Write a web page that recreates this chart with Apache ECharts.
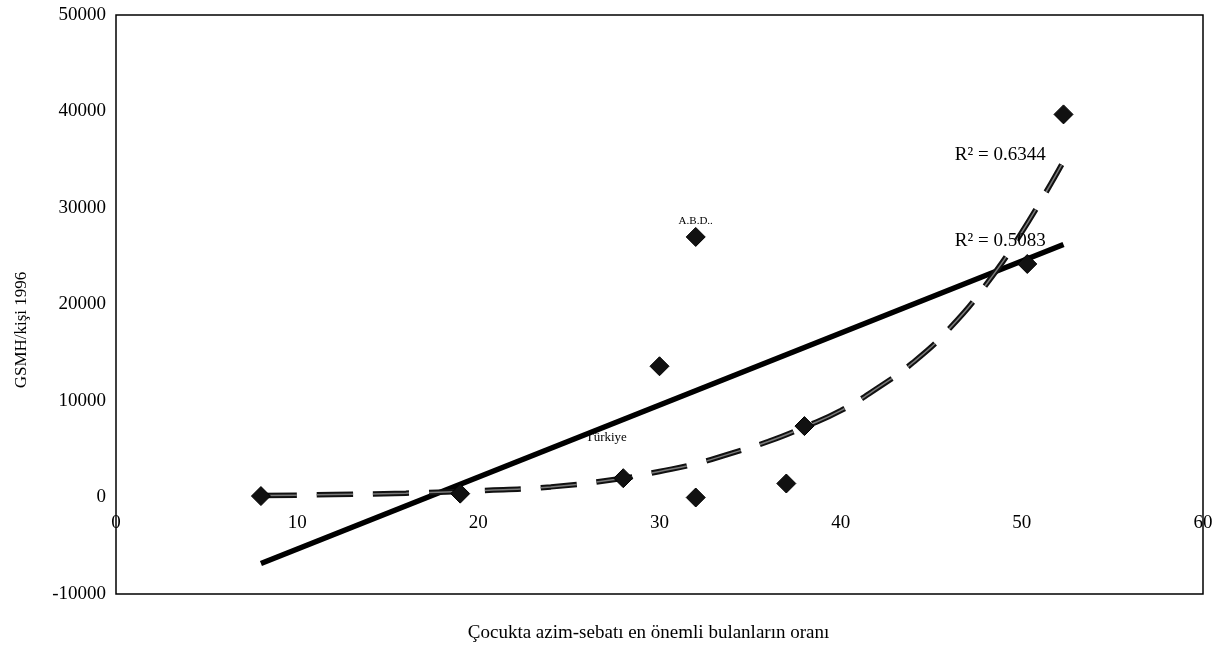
<!DOCTYPE html>
<html>
<head>
<meta charset="utf-8">
<script src="https://cdn.jsdelivr.net/npm/echarts@6/dist/echarts.min.js"></script>
<style>
html,body{margin:0;padding:0;background:#fff;}
#chart{width:1228px;height:651px;}
</style>
</head>
<body>
<div id="chart"></div>
<script>
// Scatter data (x: share finding perseverance most important, y: GNP per capita 1996)
const pointX = [8, 19, 28, 30, 32, 32, 37, 38, 50.3, 52.3];
const pointY = [150, 400, 2000, 13600, 27000, 0, 1450, 7400, 24200, 39700];
const pointNames = ['', '', 'Türkiye', '', 'A.B.D..', '', '', '', '', ''];

// Linear trend line
const linTrendX = [8, 52.3];
const linTrendY = [-6840, 26220];

// Exponential trend line
const expTrendX = [8, 12, 16, 20, 24, 28, 30, 32, 34, 36, 38, 40, 42, 44, 46, 48, 50, 52.2];
const expTrendY = [200, 300, 450, 700, 1100, 2000, 2700, 3500, 4600, 5800, 7300, 9000, 11300, 14000, 17500, 22000, 27500, 34500];

// R² annotations
const r2X = [46.3, 46.3];
const r2Y = [35440, 26630];
const r2Text = ['R² = 0.6344', 'R² = 0.5083'];

// Axis ticks
const xTicks = {min: 0, max: 60, interval: 10};
const yTicks = {min: -10000, max: 50000, interval: 10000};

const serif = "'Liberation Serif', 'Times New Roman', serif";

const gridTop = 15, gridHeight = 579;
// x axis crosses the y axis at value 0
const xAxisOffset = -gridHeight * (0 - yTicks.min) / (yTicks.max - yTicks.min);

const chart = echarts.init(document.getElementById('chart'));

const scatterData = pointX.map((x, i) => {
  const d = {value: [x, pointY[i]], name: pointNames[i]};
  if (pointNames[i] === 'Türkiye') {
    d.label = {show: true, position: 'top', offset: [-17, -19], fontSize: 13, formatter: '{b}'};
  } else if (pointNames[i]) {
    d.label = {show: true, position: 'top', offset: [0, 5], formatter: '{b}'};
  }
  return d;
});

const expData = expTrendX.map((x, i) => [x, expTrendY[i]]);
const linData = linTrendX.map((x, i) => [x, linTrendY[i]]);
const r2Data = r2X.map((x, i) => ({value: [x, r2Y[i]], name: r2Text[i]}));

chart.setOption({
  animation: false,
  backgroundColor: '#fff',
  grid: {
    left: 116, top: gridTop, width: 1087, height: gridHeight,
    containLabel: false, outerBoundsMode: 'none',
    show: true, borderColor: '#000', borderWidth: 1.5, backgroundColor: 'transparent'
  },
  xAxis: {
    type: 'value',
    min: xTicks.min, max: xTicks.max, interval: xTicks.interval,
    offset: xAxisOffset,
    axisLine: {show: false, onZero: false},
    axisTick: {show: false},
    splitLine: {show: false},
    axisLabel: {fontFamily: serif, fontSize: 19, color: '#000', margin: 16,
                formatter: v => String(v)},
    name: 'Çocukta azim-sebatı en önemli bulanların oranı',
    nameLocation: 'middle',
    nameGap: 126,
    nameTextStyle: {fontFamily: serif, fontSize: 19, color: '#000', padding: [0, 22, 0, 0]}
  },
  yAxis: {
    type: 'value',
    min: yTicks.min, max: yTicks.max, interval: yTicks.interval,
    axisLine: {show: false, onZero: false},
    axisTick: {show: false},
    splitLine: {show: false},
    axisLabel: {fontFamily: serif, fontSize: 19, color: '#000', margin: 10,
                formatter: v => String(v)},
    name: 'GSMH/kişi 1996',
    nameLocation: 'middle',
    nameGap: 86,
    nameTextStyle: {fontFamily: serif, fontSize: 17, color: '#000', padding: [0, 51, 0, 0]}
  },
  series: [
    {
      type: 'line', data: linData, symbol: 'none', silent: true,
      lineStyle: {color: '#000', width: 5.5, opacity: 1}, z: 2
    },
    {
      type: 'line', data: expData, symbol: 'none', smooth: true, silent: true,
      lineStyle: {color: '#111', width: 5.5, type: [36, 20], opacity: 1}, z: 3
    },
    {
      type: 'line', data: expData, symbol: 'none', smooth: true, silent: true,
      lineStyle: {color: '#7a7a7a', width: 1.5, type: [36, 20], opacity: 1}, z: 4
    },
    {
      type: 'scatter', data: scatterData, symbol: 'diamond', symbolSize: 19,
      itemStyle: {color: '#111', borderColor: '#000', borderWidth: 1, opacity: 1},
      label: {show: false, fontFamily: serif, fontSize: 11, color: '#000'},
      z: 5
    },
    {
      type: 'scatter', data: r2Data, symbolSize: 0, silent: true,
      itemStyle: {opacity: 1},
      label: {show: true, position: 'right', distance: 0, formatter: '{b}',
              fontFamily: serif, fontSize: 19, color: '#000'},
      z: 6
    }
  ]
});
</script>
</body>
</html>
